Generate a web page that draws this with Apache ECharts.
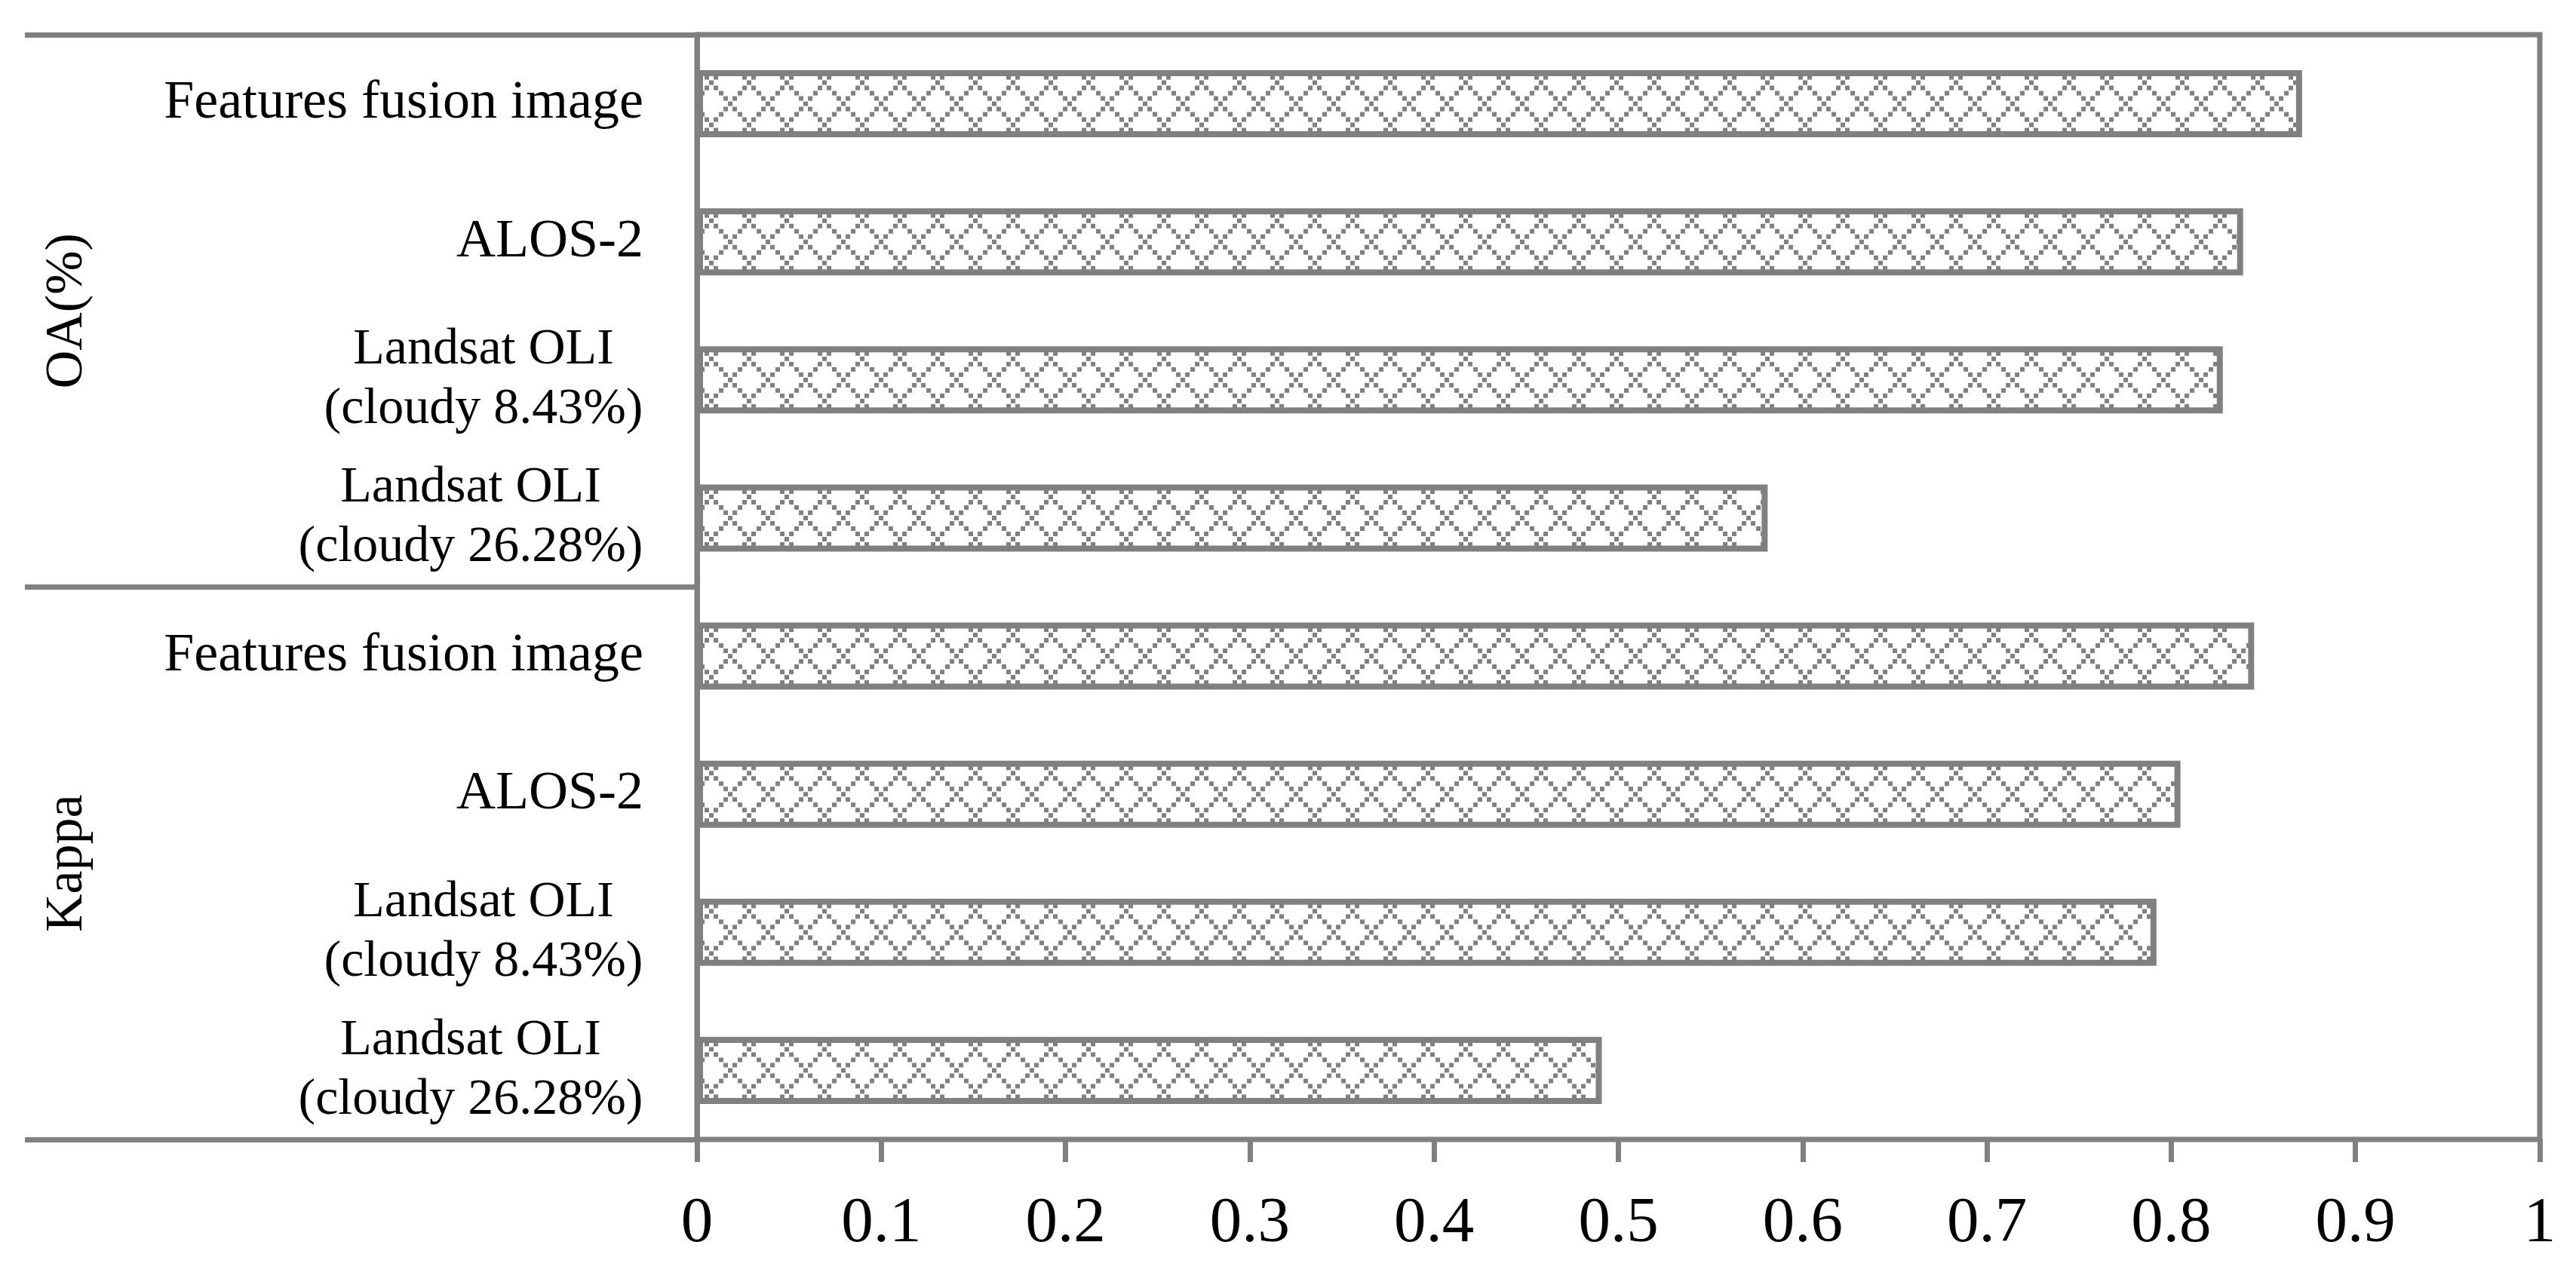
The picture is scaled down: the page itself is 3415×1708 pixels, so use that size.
<!DOCTYPE html>
<html>
<head>
<meta charset="utf-8">
<script src="https://cdn.jsdelivr.net/npm/echarts@6/dist/echarts.min.js"></script>
<style>
html, body { margin: 0; padding: 0; background: #fff; }
#chart { width: 3415px; height: 1708px; }
</style>
</head>
<body>
<div id="chart"></div>
<script>
// groups shown on the outer (rotated) level of the category axis
var groups = ['OA(%)', 'Kappa'];
// inner level, same for each group
var images = ['Features fusion image', 'ALOS-2', 'Landsat OLI\n(cloudy 8.43%)', 'Landsat OLI\n(cloudy 26.28%)'];
var oaValues = [0.871, 0.839, 0.828, 0.581];
var kappaValues = [0.845, 0.805, 0.792, 0.491];

var GRAY = '#808080';
var FONT = 'Liberation Serif';
var LABEL_SIZE = 72;
var LABEL2_SIZE = 68;
var TICK_SIZE = 85;

var categories = [];
var values = [];
groups.forEach(function (g, gi) {
    var vals = gi === 0 ? oaValues : kappaValues;
    images.forEach(function (name, i) {
        categories.push(name);
        values.push(vals[i]);
    });
});

// cross-hatch (outlined diamond) fill tile
function makeTile() {
    var w = 50, h = 56;
    var c = document.createElement('canvas');
    c.width = w; c.height = h;
    var g = c.getContext('2d');
    g.fillStyle = '#fff';
    g.fillRect(0, 0, w, h);
    g.fillStyle = GRAY;
    for (var t = 0; t < 8; t++) {
        var x = t * w / 8, y = t * h / 8;
        [x, w - x].forEach(function (px) {
            for (var dx = -w; dx <= w; dx += w) {
                for (var dy = -h; dy <= h; dy += h) {
                    g.fillRect(Math.round(px - 3 + dx), Math.round(y - 3 + dy), 6, 6);
                }
            }
        });
    }
    return c;
}
var tile = makeTile();

// two-line labels: lines centred on each other, block right-aligned to the axis
var measureCtx = document.createElement('canvas').getContext('2d');
measureCtx.font = LABEL2_SIZE + 'px "' + FONT + '"';
var rich = {};
images.forEach(function (name, i) {
    var w = Math.max.apply(null, name.split('\n').map(function (p) {
        return Math.ceil(measureCtx.measureText(p).width);
    }));
    rich['l' + i] = { width: w, align: 'center', fontSize: LABEL2_SIZE, fontFamily: FONT, lineHeight: 79, color: '#000' };
});

function labelFmt(v) {
    var parts = v.split('\n');
    if (parts.length === 1) return v;
    var key = 'l' + images.indexOf(v);
    return parts.map(function (p) { return '{' + key + '|' + p + '}'; }).join('\n');
}

var myChart = echarts.init(document.getElementById('chart'));

var option = {
    animation: false,
    backgroundColor: '#fff',
    grid: {
        left: 924,
        right: 48,
        top: 46,
        bottom: 197,
        containLabel: false,
        outerBoundsMode: 'none',
        show: true,
        borderColor: GRAY,
        borderWidth: 7,
        backgroundColor: 'transparent'
    },
    xAxis: {
        type: 'value',
        min: 0,
        max: 1,
        interval: 0.1,
        axisLine: { show: true, lineStyle: { color: GRAY, width: 6 } },
        axisTick: { show: true, length: 30, lineStyle: { color: GRAY, width: 7 } },
        splitLine: { show: false },
        axisLabel: { margin: 70, fontSize: TICK_SIZE, fontFamily: FONT, color: '#000' }
    },
    yAxis: [
        {
            type: 'category',
            data: categories,
            inverse: true,
            axisLine: { show: true, lineStyle: { color: GRAY, width: 7 } },
            axisTick: { show: false },
            splitLine: { show: false },
            axisLabel: {
                margin: 71,
                fontSize: LABEL_SIZE,
                fontFamily: FONT,
                color: '#000',
                interval: 0,
                formatter: labelFmt,
                rich: rich
            }
        },
        {
            type: 'category',
            data: groups,
            inverse: true,
            position: 'left',
            offset: 891,
            axisLine: { show: false },
            axisTick: { show: true, inside: true, length: 891, lineStyle: { color: GRAY, width: 7 } },
            splitLine: { show: false },
            axisLabel: { inside: true, rotate: 90, margin: 22, fontSize: 70, fontFamily: FONT, color: '#000' }
        }
    ],
    series: [
        {
            type: 'bar',
            yAxisIndex: 0,
            barWidth: 89,
            data: values,
            itemStyle: { color: { image: tile, repeat: 'repeat' }, borderColor: GRAY, borderWidth: 8 }
        }
    ]
};

myChart.setOption(option);

// anchor the hatch to each bar like the original fill does
var items = values.map(function (v, i) {
    var cy = myChart.convertToPixel({ yAxisIndex: 0 }, i);
    return {
        value: v,
        itemStyle: { color: { image: tile, repeat: 'repeat', x: -7, y: cy - 28 } }
    };
});
myChart.setOption({ series: [{ data: items }] });
</script>
</body>
</html>
